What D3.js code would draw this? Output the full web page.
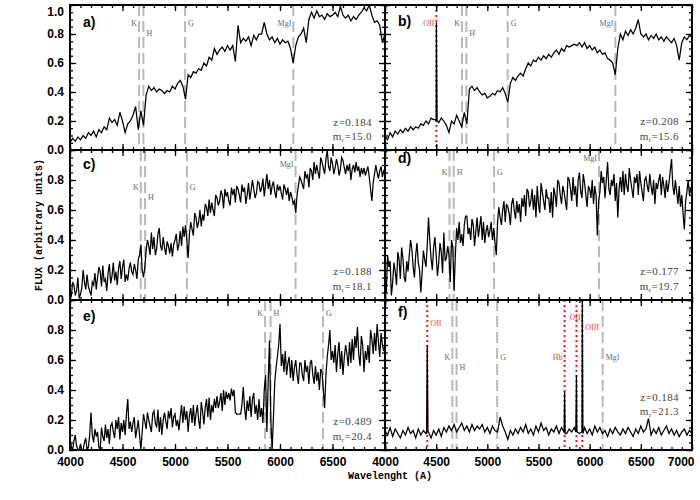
<!DOCTYPE html>
<html>
<head>
<meta charset="utf-8">
<script src="https://cdn.jsdelivr.net/npm/d3@7"></script>
<style>
  body { margin: 0; background: #fff; }
  svg { display: block; }
  .tick text { font-family: "Liberation Sans", Arial, sans-serif; font-weight: bold; font-size: 12px; fill: #000; }
  .title { font-family: "Liberation Mono", "DejaVu Sans Mono", monospace; font-weight: bold; font-size: 10px; }
</style>
</head>
<body>
<svg id="chart" width="700" height="500"></svg>
<script>
"use strict";

// wavelength grid of the flux arrays (Angstrom); noisy panels are sampled finer
var waveStart = 4000;
var coarseStep = 25, fineStep = 12.5;

var fluxA = [
  0.05,0.08,0.06,0.09,0.07,0.10,0.08,0.12,
  0.10,0.13,0.09,0.14,0.12,0.16,0.14,0.22,
  0.19,0.21,0.17,0.26,0.20,0.12,0.18,0.20,
  0.24,0.30,0.14,0.27,0.17,0.38,0.44,0.41,
  0.43,0.40,0.42,0.41,0.39,0.41,0.40,0.44,
  0.42,0.46,0.48,0.44,0.35,0.52,0.50,0.54,
  0.53,0.56,0.55,0.60,0.58,0.64,0.62,0.70,
  0.66,0.69,0.71,0.68,0.72,0.69,0.72,0.61,
  0.86,0.74,0.77,0.75,0.78,0.72,0.79,0.76,
  0.80,0.80,0.88,0.80,0.76,0.78,0.74,0.77,
  0.73,0.76,0.74,0.75,0.70,0.60,0.72,0.78,
  0.80,0.84,0.74,0.90,0.95,0.91,0.96,0.92,
  0.93,0.90,0.94,0.92,0.93,0.95,0.92,0.99,
  0.93,0.91,0.93,0.89,0.92,0.90,0.93,0.95,
  0.98,0.96,1.00,0.93,0.88,0.89,0.86,0.74,
  0.80
];

var fluxB = [
  0.10,0.07,0.12,0.09,0.13,0.11,0.14,0.12,
  0.15,0.13,0.16,0.14,0.16,0.15,0.18,0.17,
  0.20,0.18,0.22,0.21,0.20,0.19,0.22,0.20,
  0.17,0.12,0.20,0.18,0.24,0.20,0.16,0.26,
  0.18,0.42,0.44,0.41,0.43,0.40,0.38,0.39,
  0.36,0.37,0.39,0.38,0.41,0.40,0.43,0.39,
  0.33,0.46,0.50,0.48,0.51,0.53,0.51,0.56,
  0.60,0.58,0.62,0.61,0.64,0.62,0.65,0.63,
  0.66,0.64,0.67,0.69,0.66,0.70,0.68,0.72,
  0.71,0.72,0.73,0.72,0.74,0.71,0.74,0.70,
  0.72,0.69,0.71,0.67,0.69,0.66,0.67,0.63,
  0.62,0.60,0.52,0.70,0.80,0.76,0.82,0.79,
  0.83,0.80,0.84,0.90,0.80,0.78,0.80,0.76,
  0.79,0.77,0.80,0.76,0.78,0.75,0.78,0.76,
  0.74,0.77,0.72,0.62,0.74,0.78,0.76,0.79,
  0.78
];

var fluxC = [
  0.05,0.02,0.12,0.10,0.03,0.06,0.15,0.01,0.04,0.08,0.20,0.12,0.07,0.17,0.09,0.06,
  0.03,0.12,0.10,0.18,0.07,0.15,0.22,0.19,0.09,0.23,0.12,0.14,0.06,0.18,0.24,0.11,
  0.16,0.25,0.13,0.19,0.10,0.21,0.26,0.14,0.22,0.27,0.12,0.17,0.13,0.21,0.25,0.19,
  0.17,0.24,0.20,0.14,0.27,0.30,0.37,0.20,0.15,0.22,0.33,0.40,0.36,0.30,0.45,0.34,
  0.42,0.30,0.34,0.44,0.48,0.36,0.33,0.42,0.35,0.30,0.39,0.36,0.31,0.38,0.29,0.37,
  0.40,0.44,0.33,0.37,0.46,0.36,0.49,0.42,0.50,0.40,0.28,0.44,0.52,0.47,0.43,0.58,
  0.55,0.48,0.52,0.60,0.49,0.57,0.53,0.64,0.62,0.56,0.67,0.58,0.65,0.60,0.56,0.70,
  0.68,0.63,0.66,0.73,0.70,0.61,0.74,0.69,0.72,0.66,0.63,0.75,0.70,0.74,0.65,0.76,
  0.74,0.70,0.65,0.77,0.72,0.75,0.64,0.70,0.78,0.67,0.73,0.80,0.74,0.68,0.71,0.79,
  0.78,0.72,0.75,0.81,0.69,0.77,0.84,0.74,0.80,0.70,0.76,0.79,0.72,0.68,0.77,0.73,
  0.76,0.71,0.67,0.77,0.74,0.70,0.75,0.66,0.72,0.69,0.64,0.66,0.58,0.70,0.76,0.82,
  0.80,0.77,0.74,0.86,0.81,0.84,0.75,0.88,0.86,0.80,0.92,0.84,0.90,0.85,0.81,0.95,
  0.92,0.88,0.84,0.94,1.00,0.89,0.86,0.95,0.91,0.84,0.88,0.94,0.90,0.83,0.87,0.95,
  0.93,0.88,0.84,0.90,0.86,0.91,0.80,0.87,0.90,0.85,0.92,0.86,0.89,0.82,0.88,0.84,
  0.88,0.83,0.86,0.89,0.82,0.74,0.66,0.78,0.84,0.90,0.85,0.81,0.86,0.89,0.82,0.86,
  0.84
];

var fluxD = [
  0.15,0.05,0.30,0.22,0.26,0.03,0.12,0.25,0.19,0.10,0.32,0.27,0.14,0.35,0.28,0.15,
  0.12,0.26,0.19,0.30,0.40,0.34,0.22,0.15,0.30,0.38,0.25,0.20,0.05,0.18,0.33,0.27,
  0.22,0.36,0.55,0.40,0.28,0.20,0.35,0.42,0.30,0.16,0.25,0.38,0.32,0.18,0.45,0.26,
  0.28,0.36,0.30,0.12,0.40,0.35,0.06,0.30,0.48,0.40,0.52,0.38,0.44,0.36,0.50,0.56,
  0.56,0.44,0.48,0.40,0.54,0.50,0.36,0.46,0.55,0.42,0.49,0.56,0.40,0.52,0.38,0.46,
  0.50,0.42,0.46,0.52,0.40,0.48,0.38,0.30,0.52,0.62,0.55,0.50,0.60,0.66,0.52,0.64,
  0.62,0.58,0.50,0.64,0.68,0.60,0.54,0.66,0.58,0.64,0.52,0.68,0.62,0.70,0.56,0.74,
  0.72,0.62,0.66,0.74,0.60,0.70,0.55,0.76,0.64,0.58,0.78,0.72,0.66,0.60,0.74,0.68,
  0.68,0.58,0.72,0.55,0.75,0.70,0.62,0.80,0.78,0.70,0.64,0.76,0.72,0.66,0.60,0.82,
  0.80,0.74,0.66,0.82,0.70,0.76,0.62,0.80,0.85,0.72,0.68,0.84,0.78,0.70,0.62,0.76,
  0.74,0.68,0.80,0.64,0.76,0.70,0.43,0.66,0.72,0.86,0.78,0.82,0.68,0.80,0.92,0.74,
  0.70,0.80,0.76,0.84,0.66,0.78,0.55,0.74,0.82,0.72,0.86,0.70,0.84,0.76,0.72,0.88,
  0.80,0.74,0.68,0.82,0.78,0.84,0.70,0.86,0.78,0.72,0.66,0.80,0.82,0.76,0.72,0.84,
  0.76,0.70,0.80,0.64,0.78,0.74,0.80,0.84,0.70,0.82,0.76,0.68,0.80,0.72,0.78,0.86,
  0.94,0.76,0.70,0.80,0.72,0.64,0.76,0.62,0.70,0.58,0.47,0.66,0.72,0.80,0.70,0.74,
  0.76
];

var fluxE = [
  0.08,0.02,0.00,0.06,0.10,0.03,0.00,0.00,0.04,0.00,0.00,0.05,0.08,0.00,0.02,0.10,
  0.25,0.10,0.05,0.14,0.09,0.12,0.02,0.00,0.15,0.09,0.06,0.17,0.08,0.14,0.04,0.16,
  0.18,0.12,0.08,0.20,0.14,0.22,0.07,0.18,0.12,0.20,0.10,0.24,0.34,0.14,0.19,0.12,
  0.18,0.22,0.08,0.14,0.20,0.10,0.00,0.12,0.24,0.19,0.14,0.25,0.20,0.16,0.12,0.24,
  0.26,0.18,0.15,0.27,0.12,0.22,0.10,0.20,0.25,0.19,0.14,0.26,0.21,0.28,0.15,0.22,
  0.24,0.16,0.20,0.13,0.22,0.30,0.18,0.29,0.20,0.26,0.12,0.23,0.28,0.18,0.30,0.16,
  0.24,0.30,0.20,0.14,0.32,0.26,0.17,0.28,0.34,0.22,0.35,0.20,0.30,0.25,0.34,0.28,
  0.36,0.28,0.32,0.38,0.26,0.40,0.30,0.39,0.34,0.38,0.33,0.41,0.36,0.40,0.25,0.24,
  0.24,0.24,0.24,0.30,0.42,0.28,0.20,0.33,0.26,0.36,0.22,0.34,0.38,0.24,0.30,0.20,
  0.34,0.22,0.28,0.18,0.40,0.50,0.12,0.46,0.73,0.20,0.00,0.22,0.45,0.55,0.62,0.70,
  0.84,0.56,0.64,0.52,0.66,0.50,0.58,0.62,0.48,0.60,0.46,0.55,0.60,0.50,0.44,0.58,
  0.58,0.50,0.46,0.60,0.52,0.56,0.44,0.58,0.60,0.50,0.44,0.56,0.46,0.52,0.40,0.54,
  0.52,0.40,0.28,0.50,0.62,0.70,0.80,0.60,0.66,0.58,0.70,0.52,0.64,0.72,0.54,0.66,
  0.50,0.62,0.70,0.64,0.56,0.72,0.58,0.74,0.60,0.76,0.68,0.82,0.64,0.56,0.76,0.70,
  0.52,0.66,0.60,0.70,0.58,0.80,0.74,0.64,0.78,0.66,0.84,0.72,0.62,0.78,0.70,0.66,
  0.70
];

var fluxF = [
  0.13,0.10,0.15,0.09,0.14,0.11,0.08,0.13,
  0.10,0.15,0.11,0.13,0.08,0.14,0.10,0.13,
  0.11,0.12,0.08,0.13,0.10,0.14,0.09,0.15,
  0.12,0.16,0.13,0.17,0.12,0.15,0.18,0.13,
  0.16,0.12,0.17,0.13,0.16,0.14,0.17,0.12,
  0.15,0.11,0.16,0.13,0.12,0.22,0.16,0.12,
  0.07,0.13,0.10,0.14,0.11,0.15,0.12,0.17,
  0.11,0.14,0.10,0.16,0.12,0.18,0.13,0.15,
  0.10,0.14,0.12,0.16,0.11,0.15,0.12,0.11,
  0.14,0.12,0.15,0.13,0.11,0.12,0.15,0.11,
  0.14,0.10,0.16,0.12,0.15,0.11,0.13,0.09,
  0.14,0.11,0.15,0.12,0.10,0.14,0.11,0.15,
  0.12,0.09,0.14,0.11,0.16,0.12,0.14,0.21,
  0.10,0.14,0.11,0.15,0.10,0.13,0.16,0.11,
  0.14,0.10,0.13,0.09,0.12,0.14,0.10,0.13,
  0.11
];

// narrow emission lines: [wavelength, flux]
var emissionB = [[4495, 0.21], [4502, 0.88], [4509, 0.20]];
var emissionF = [
  [4406, 0.11], [4413, 0.70], [4420, 0.12],
  [5749, 0.12], [5755, 0.39], [5761, 0.11],
  [5865, 0.12], [5871, 0.50], [5877, 0.12],
  [5922, 0.12], [5928, 1.02], [5934, 0.11]
];

// identified features: [label, observed wavelength, emission?]
var linesA = [["K", 4658, 0], ["H", 4699, 0], ["G", 5096, 0], ["MgI", 6127, 0]];
var linesB = [["OII", 4502, 1], ["K", 4752, 0], ["H", 4795, 0], ["G", 5199, 0], ["MgI", 6251, 0]];
var linesC = [["K", 4674, 0], ["H", 4715, 0], ["G", 5113, 0], ["MgI", 6148, 0]];
var linesD = [["K", 4630, 0], ["H", 4672, 0], ["G", 5066, 0], ["MgI", 6091, 0]];
var linesE = [["K", 5858, 0], ["H", 5910, 0], ["G", 6409, 0]];
var linesF = [["OII", 4413, 1], ["K", 4658, 0], ["H", 4699, 0], ["G", 5096, 0],
              ["Hb", 5755, 1], ["OIII", 5871, 1], ["OIII", 5928, 1], ["MgI", 6127, 0]];

var panelLetters = ["a)", "b)", "c)", "d)", "e)", "f)"];
var redshifts = ["0.184", "0.208", "0.188", "0.177", "0.489", "0.184"];
var magnitudes = ["15.0", "15.6", "18.1", "19.7", "20.4", "21.3"];

var xMajorTicks = [4000, 4500, 5000, 5500, 6000, 6500, 7000];
var yMajorTicks = [0, 0.2, 0.4, 0.6, 0.8, 1.0];

// ---- layout (pixels) ----
var colX = [[70, 385], [385, 692]];
var rowY = [[5, 150], [150, 300], [300, 450]];
// label placement for each feature: [dy from panel top, side]
var labelPos = [
  [[18, "l"], [28, "r"], [18, "r"], [18, "l"]],
  [[18, "l"], [18, "l"], [28, "r"], [18, "r"], [18, "l"]],
  [[37, "l"], [47, "r"], [37, "r"], [14, "l"]],
  [[22, "l"], [22, "r"], [22, "r"], [8, "l"]],
  [[13, "l"], [13, "r"], [13, "r"]],
  [[23, "r"], [57, "l"], [67, "r"], [57, "r"], [57, "l"], [17, "m"], [27, "r"], [57, "r"]]
];
var letterDy = [22, 21, 19, 13, 21, 17];
var infoDy = [[-24, -10], [-25, -10], [-25, -10], [-25, -10], [-25, -10], [-49, -35]];

var fluxes = [fluxA, fluxB, fluxC, fluxD, fluxE, fluxF];
var steps = [coarseStep, coarseStep, fineStep, fineStep, fineStep, coarseStep];
var emissions = [[], emissionB, [], [], [], emissionF];
var features = [linesA, linesB, linesC, linesD, linesE, linesF];

var svg = d3.select("#chart");

function spectrumPoints(flux, step, emission) {
  var pts = flux.map(function (f, i) { return [waveStart + i * step, f]; });
  pts = pts.concat(emission);
  pts.sort(function (a, b) { return a[0] - b[0]; });
  return pts;
}

function styleAxis(sel) {
  sel.select(".domain").remove();
  sel.selectAll(".tick line").attr("stroke", "#000").attr("stroke-width", 1.3);
  return sel;
}

fluxes.forEach(function (flux, i) {
  var col = i % 2, row = Math.floor(i / 2);
  var x0 = colX[col][0], x1 = colX[col][1];
  var y0 = rowY[row][0], y1 = rowY[row][1];

  var x = d3.scaleLinear().domain([4000, 7000]).range([x0, x1]);
  var y = d3.scaleLinear().domain([0, 1]).range([y1, y0]);

  var g = svg.append("g");

  g.append("clipPath").attr("id", "clip" + i)
    .append("rect").attr("x", x0).attr("y", y0).attr("width", x1 - x0).attr("height", y1 - y0);

  // feature markers
  features[i].forEach(function (ln, j) {
    var lx = x(ln[1]);
    g.append("line")
      .attr("x1", lx).attr("x2", lx).attr("y1", y0).attr("y2", y1)
      .attr("stroke", ln[2] ? "#ff1010" : "#b9b9b9")
      .attr("stroke-width", 2)
      .attr("stroke-dasharray", ln[2] ? "2,3" : "11,5");
    var pos = labelPos[i][j];
    var anchor = pos[1] === "l" ? "end" : (pos[1] === "r" ? "start" : "middle");
    var off = pos[1] === "l" ? -2 : (pos[1] === "r" ? 3 : 0);
    g.append("text")
      .attr("x", lx + off).attr("y", y0 + pos[0] + 3)
      .attr("text-anchor", anchor)
      .attr("font-family", "'Liberation Serif', 'DejaVu Serif', serif")
      .attr("font-size", 8)
      .attr("fill", ln[2] ? "#f03a3a" : "#6a6a6a")
      .text(ln[0]);
  });

  // spectrum
  var line = d3.line()
    .x(function (d) { return x(d[0]); })
    .y(function (d) { return y(d[1]); });
  g.append("path")
    .datum(spectrumPoints(flux, steps[i], emissions[i]))
    .attr("clip-path", "url(#clip" + i + ")")
    .attr("fill", "none")
    .attr("stroke", "#000")
    .attr("stroke-width", 1.25)
    .attr("d", line);

  // axes: ticks on all four sides, pointing inward
  var xMinor = d3.range(4000, 7001, 100);
  var yMinor = d3.range(0, 1.0001, 0.05);
  var isBottom = row === 2;

  var bottom = styleAxis(g.append("g").attr("transform", "translate(0," + y1 + ")")
    .call(d3.axisBottom(x).tickValues(xMajorTicks).tickSize(-6).tickPadding(7)
      .tickFormat(function (d) {
        if (!isBottom) return "";
        if (col === 0 && d === 7000) return "";
        return d;
      })));
  if (isBottom && col === 1) {
    bottom.selectAll(".tick").filter(function (d) { return d === 7000; })
      .select("text").attr("text-anchor", "end").attr("x", 2);
  }
  styleAxis(g.append("g").attr("transform", "translate(0," + y1 + ")")
    .call(d3.axisBottom(x).tickValues(xMinor).tickSize(-3).tickFormat("")));
  styleAxis(g.append("g").attr("transform", "translate(0," + y0 + ")")
    .call(d3.axisTop(x).tickValues(xMajorTicks).tickSize(-6).tickFormat("")));
  styleAxis(g.append("g").attr("transform", "translate(0," + y0 + ")")
    .call(d3.axisTop(x).tickValues(xMinor).tickSize(-3).tickFormat("")));

  var yLabels = col === 0 ? (row === 0 ? yMajorTicks : yMajorTicks.slice(0, 5)) : [];
  var left = styleAxis(g.append("g").attr("transform", "translate(" + x0 + ",0)")
    .call(d3.axisLeft(y).tickValues(yMajorTicks).tickSize(-6).tickPadding(6)
      .tickFormat(function (d) { return yLabels.indexOf(d) >= 0 ? d3.format(".1f")(d) : ""; })));
  // keep the top label of the first panel inside the picture
  left.selectAll(".tick").filter(function (d) { return d === 1; })
    .select("text").attr("dy", "0.85em");
  styleAxis(g.append("g").attr("transform", "translate(" + x0 + ",0)")
    .call(d3.axisLeft(y).tickValues(yMinor).tickSize(-3).tickFormat("")));
  styleAxis(g.append("g").attr("transform", "translate(" + x1 + ",0)")
    .call(d3.axisRight(y).tickValues(yMajorTicks).tickSize(-6).tickFormat("")));
  styleAxis(g.append("g").attr("transform", "translate(" + x1 + ",0)")
    .call(d3.axisRight(y).tickValues(yMinor).tickSize(-3).tickFormat("")));

  // frame
  g.append("rect")
    .attr("x", x0).attr("y", y0).attr("width", x1 - x0).attr("height", y1 - y0)
    .attr("fill", "none").attr("stroke", "#000").attr("stroke-width", 2);

  // panel letter
  g.append("text")
    .attr("x", x0 + 13).attr("y", y0 + letterDy[i])
    .attr("font-family", "'Liberation Sans', Arial, sans-serif")
    .attr("font-weight", "bold")
    .attr("font-size", 14)
    .text(panelLetters[i]);

  // redshift and magnitude
  var info = g.append("g")
    .attr("font-family", "'Liberation Serif', 'DejaVu Serif', serif")
    .attr("font-size", 11)
    .attr("letter-spacing", 0.4)
    .attr("fill", "#444")
    .attr("text-anchor", "end");
  info.append("text").attr("x", x1 - 13).attr("y", y1 + infoDy[i][0]).text("z=" + redshifts[i]);
  var m = info.append("text").attr("x", x1 - 13).attr("y", y1 + infoDy[i][1]);
  m.append("tspan").text("m");
  m.append("tspan").attr("font-size", 7).attr("dy", 2).text("r");
  m.append("tspan").attr("dy", -2).text("=" + magnitudes[i]);
});

// axis titles
svg.append("text").attr("class", "title")
  .attr("x", 390).attr("y", 479).attr("text-anchor", "middle")
  .text("Wavelenght (A)");
svg.append("text").attr("class", "title")
  .attr("transform", "translate(42,225) rotate(-90)")
  .attr("text-anchor", "middle")
  .text("FLUX (arbitrary units)");
</script>
</body>
</html>
